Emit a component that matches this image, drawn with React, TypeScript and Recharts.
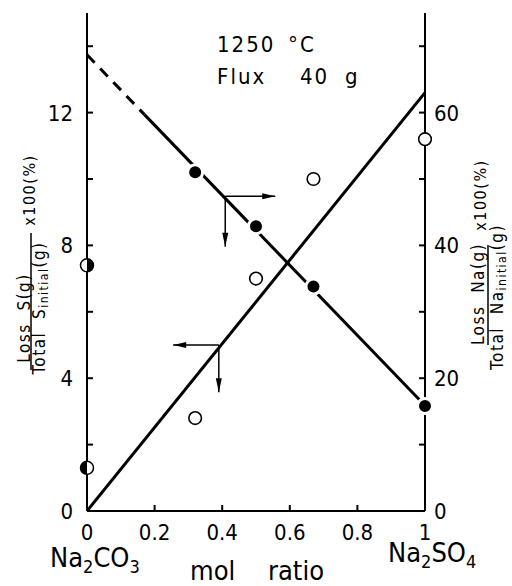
import React from 'react';
import {
  ComposedChart,
  Line,
  Scatter,
  XAxis,
  YAxis,
  ReferenceLine,
  ReferenceDot,
} from 'recharts';

// measured points (mol ratio Na2SO4 / flux)
const molRatio = [0, 0.32, 0.5, 0.67, 1];
const naLoss = [37.0, 51.0, 42.9, 33.8, 15.8]; // right axis, %
const sLoss = [1.3, 2.8, 7.0, 10.0, 11.2]; // left axis, %

// fitted lines
const naFitDashedX = [0, 0.17];
const naFitDashedY = [68.7, 59.7];
const naFitSolidX = [0.17, 1];
const naFitSolidY = [59.7, 15.9];
const sFitX = [0, 1];
const sFitY = [0, 12.6];

// axis ticks
const xTicks = [0, 0.2, 0.4, 0.6, 0.8, 1];
const leftTicks = [0, 2, 4, 6, 8, 10, 12, 14];
const rightTicks = [0, 10, 20, 30, 40, 50, 60, 70];

// pointer arrows: [x0, y0, x1, y1] in data units
const naArrowH = [0.409, 47.4, 0.557, 47.4];
const naArrowV = [0.409, 47.4, 0.409, 39.8];
const sArrowH = [0.39, 5.0, 0.255, 5.0];
const sArrowV = [0.39, 5.0, 0.39, 3.58];

const naPoints = molRatio.map((x, i) => ({ x, y: naLoss[i] }));
const sPoints = molRatio.map((x, i) => ({ x, y: sLoss[i] }));
const toLine = (xs: number[], ys: number[]) => xs.map((x, i) => ({ x, y: ys[i] }));

const FONT = "'DejaVu Sans Condensed', 'Liberation Sans Narrow', 'DejaVu Sans', sans-serif";

const NaDot = (props: any) => {
  const { cx, cy, payload } = props;
  if (payload.x === 0) {
    // half marker, right half black
    return (
      <g>
        <circle cx={cx} cy={cy} r={6.5} fill="#fff" stroke="#000" strokeWidth={1.5} />
        <path d={`M${cx},${cy - 6.5} A6.5,6.5 0 0 1 ${cx},${cy + 6.5} Z`} fill="#000" />
      </g>
    );
  }
  return <circle cx={cx} cy={cy} r={7.5} fill="#000" stroke="#fff" strokeWidth={3} />;
};

const SDot = (props: any) => {
  const { cx, cy, payload } = props;
  if (payload.x === 0) {
    return (
      <g>
        <circle cx={cx} cy={cy} r={6.5} fill="#fff" stroke="#000" strokeWidth={1.5} />
        <path d={`M${cx},${cy - 6.5} A6.5,6.5 0 0 0 ${cx},${cy + 6.5} Z`} fill="#000" />
      </g>
    );
  }
  return <circle cx={cx} cy={cy} r={6.3} fill="#fff" stroke="#000" strokeWidth={1.6} />;
};

const arrowHead = (dir: 'left' | 'right' | 'down') => (props: any) => {
  const { cx, cy } = props;
  let d = '';
  if (dir === 'right') d = `M${cx},${cy} L${cx - 13},${cy - 3} L${cx - 13},${cy + 3} Z`;
  if (dir === 'left') d = `M${cx},${cy} L${cx + 13},${cy - 3} L${cx + 13},${cy + 3} Z`;
  if (dir === 'down') d = `M${cx},${cy} L${cx - 3},${cy - 14} L${cx + 3},${cy - 14} Z`;
  return <path d={d} fill="#000" />;
};

const BottomTick = (props: any) => {
  const { x, y, payload } = props;
  return (
    <g>
      <line x1={x} y1={y} x2={x} y2={y - 6} stroke="#000" strokeWidth={2} />
      <text x={x} y={y + 29} textAnchor="middle" fontSize={22} fontFamily={FONT} fill="#000">
        {payload.value === 0 || payload.value === 1 ? payload.value : payload.value.toFixed(1)}
      </text>
    </g>
  );
};

const TopTick = (props: any) => {
  const { x, y } = props;
  return <line x1={x} y1={y} x2={x} y2={y + 6} stroke="#000" strokeWidth={2} />;
};

const LeftTick = (props: any) => {
  const { x, y, payload } = props;
  return (
    <g>
      <line x1={x} y1={y} x2={x} y2={y} stroke="#000" strokeWidth={2} />
      <line x1={x} y1={y} x2={x + 6} y2={y} stroke="#000" strokeWidth={2} />
      {payload.value % 4 === 0 && (
        <text x={x - 14} y={y + 8} textAnchor="end" fontSize={22} fontFamily={FONT} fill="#000">
          {payload.value}
        </text>
      )}
    </g>
  );
};

const RightTick = (props: any) => {
  const { x, y, payload } = props;
  return (
    <g>
      <line x1={x} y1={y} x2={x - 6} y2={y} stroke="#000" strokeWidth={2} />
      {payload.value % 20 === 0 && (
        <text x={x + 9} y={y + 8} textAnchor="start" fontSize={22} fontFamily={FONT} fill="#000">
          {payload.value}
        </text>
      )}
    </g>
  );
};

const Rot = ({ x, y, children, size = 17 }: any) => (
  <text
    transform={`translate(${x},${y}) rotate(-90)`}
    textAnchor="middle"
    fontSize={size}
    fontFamily={FONT}
    letterSpacing={1.5}
    fill="#000"
    style={{ whiteSpace: 'pre' }}
  >
    {children}
  </text>
);

export default function App() {
  return (
    <div style={{ position: 'absolute', left: 0, top: 0, width: 512, height: 586, background: '#fff' }}>
      <ComposedChart
        width={512}
        height={586}
        margin={{ top: 13, right: 0, bottom: 0, left: 0 }}
        style={{ position: 'absolute', left: 0, top: 0 }}
      >
        <XAxis
          xAxisId="b"
          type="number"
          dataKey="x"
          domain={[0, 1]}
          ticks={xTicks}
          height={75}
          tickSize={0}
          tickMargin={0}
          tickLine={false}
          axisLine={{ stroke: '#000', strokeWidth: 2 }}
          tick={<BottomTick />}
          interval={0}
        />
        <XAxis
          xAxisId="t"
          orientation="top"
          type="number"
          dataKey="x"
          domain={[0, 1]}
          ticks={xTicks}
          height={0}
          tickSize={0}
          tickMargin={0}
          tickLine={false}
          axisLine={{ stroke: '#000', strokeWidth: 2 }}
          tick={<TopTick />}
          interval={0}
        />
        <YAxis
          yAxisId="left"
          type="number"
          domain={[0, 15]}
          ticks={leftTicks}
          width={87}
          tickSize={0}
          tickMargin={0}
          tickLine={false}
          axisLine={{ stroke: '#000', strokeWidth: 2 }}
          tick={<LeftTick />}
          interval={0}
        />
        <YAxis
          yAxisId="right"
          orientation="right"
          type="number"
          domain={[0, 75]}
          ticks={rightTicks}
          width={87}
          tickSize={0}
          tickMargin={0}
          tickLine={false}
          axisLine={{ stroke: '#000', strokeWidth: 2 }}
          tick={<RightTick />}
          interval={0}
        />

        <Line
          xAxisId="b"
          yAxisId="left"
          data={toLine(sFitX, sFitY)}
          dataKey="y"
          stroke="#000"
          strokeWidth={3}
          dot={false}
          isAnimationActive={false}
        />
        <Line
          xAxisId="b"
          yAxisId="right"
          data={toLine(naFitDashedX, naFitDashedY)}
          dataKey="y"
          stroke="#000"
          strokeWidth={3}
          strokeDasharray="11 8"
          dot={false}
          isAnimationActive={false}
        />
        <Line
          xAxisId="b"
          yAxisId="right"
          data={toLine(naFitSolidX, naFitSolidY)}
          dataKey="y"
          stroke="#000"
          strokeWidth={3}
          dot={false}
          isAnimationActive={false}
        />

        <ReferenceLine xAxisId="b" yAxisId="right" segment={[{ x: naArrowH[0], y: naArrowH[1] }, { x: naArrowH[2], y: naArrowH[3] }]} stroke="#000" strokeWidth={1.5} />
        <ReferenceLine xAxisId="b" yAxisId="right" segment={[{ x: naArrowV[0], y: naArrowV[1] }, { x: naArrowV[2], y: naArrowV[3] }]} stroke="#000" strokeWidth={1.5} />
        <ReferenceDot xAxisId="b" yAxisId="right" x={naArrowH[2]} y={naArrowH[3]} shape={arrowHead('right')} />
        <ReferenceDot xAxisId="b" yAxisId="right" x={naArrowV[2]} y={naArrowV[3]} shape={arrowHead('down')} />
        <ReferenceLine xAxisId="b" yAxisId="left" segment={[{ x: sArrowH[0], y: sArrowH[1] }, { x: sArrowH[2], y: sArrowH[3] }]} stroke="#000" strokeWidth={1.5} />
        <ReferenceLine xAxisId="b" yAxisId="left" segment={[{ x: sArrowV[0], y: sArrowV[1] }, { x: sArrowV[2], y: sArrowV[3] }]} stroke="#000" strokeWidth={1.5} />
        <ReferenceDot xAxisId="b" yAxisId="left" x={sArrowH[2]} y={sArrowH[3]} shape={arrowHead('left')} />
        <ReferenceDot xAxisId="b" yAxisId="left" x={sArrowV[2]} y={sArrowV[3]} shape={arrowHead('down')} />

        <Scatter
          xAxisId="b"
          yAxisId="right"
          data={naPoints}
          dataKey="y"
          shape={NaDot}
          isAnimationActive={false}
        />
        <Scatter
          xAxisId="b"
          yAxisId="left"
          data={sPoints}
          dataKey="y"
          shape={SDot}
          isAnimationActive={false}
        />
      </ComposedChart>

      <svg
        width={512}
        height={586}
        style={{ position: 'absolute', left: 0, top: 0, pointerEvents: 'none' }}
      >
        <g fontFamily={FONT} fill="#000" fontSize={22} letterSpacing={2}>
          <text x={217} y={52}>1250</text>
          <text x={288} y={52}>°C</text>
          <text x={217} y={84}>Flux</text>
          <text x={300} y={84}>40</text>
          <text x={345} y={84}>g</text>
        </g>
        <g fontFamily={FONT} fill="#000" fontSize={27}>
          <text x={50} y={567}>
            Na<tspan fontSize={18} dy={6}>2</tspan>
            <tspan dy={-6}>CO</tspan>
            <tspan fontSize={18} dy={6}>3</tspan>
          </text>
          <text x={190} y={580}>mol</text>
          <text x={268} y={580}>ratio</text>
          <text x={388} y={562}>
            Na<tspan fontSize={18} dy={6}>2</tspan>
            <tspan dy={-6}>SO</tspan>
            <tspan fontSize={18} dy={6}>4</tspan>
          </text>
        </g>

        {/* left axis title */}
        <Rot x={30} y={318}>Loss  S(g)</Rot>
        <line x1={31} y1={233} x2={31} y2={370} stroke="#000" strokeWidth={1.5} />
        <Rot x={45} y={308}>
          Total  S<tspan fontSize={12} dy={3}>initial</tspan>
          <tspan dy={-3}>(g)</tspan>
        </Rot>
        <Rot x={35} y={190} size={16}>x100(%)</Rot>

        {/* right axis title */}
        <Rot x={484} y={294}>Loss  Na(g)</Rot>
        <line x1={488} y1={245} x2={488} y2={345} stroke="#000" strokeWidth={1.5} />
        <Rot x={503} y={297}>
          Total  Na<tspan fontSize={12} dy={3}>initial</tspan>
          <tspan dy={-3}>(g)</tspan>
        </Rot>
        <Rot x={486} y={195} size={16}>x100(%)</Rot>
      </svg>
    </div>
  );
}
